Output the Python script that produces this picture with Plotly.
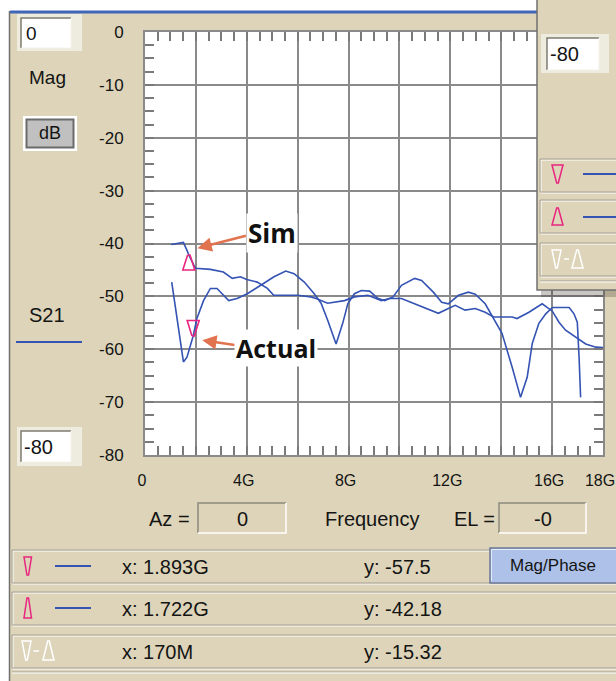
import plotly.graph_objects as go

# ---- S21 magnitude traces (frequency in GHz, magnitude in dB) ----
sim_freq_ghz = [1.03, 1.51, 1.65, 1.722, 1.98, 2.57, 3.08, 3.43, 3.75, 4.0, 4.41, 4.81,
                5.06, 5.46, 6.0, 6.52, 6.72, 7.18, 7.84, 8.23, 8.76, 9.29, 9.62, 10.08,
                10.6, 11.13, 11.53, 11.92, 12.19, 12.58, 12.98, 13.37, 13.7, 14.43, 14.62,
                15.09, 15.61, 16.01, 16.27, 16.53, 16.93, 17.32, 17.72, 18.0]
sim_db = [-40.2, -39.8, -41.3, -42.18, -44.7, -44.9, -45.4, -46.6, -46.3, -46.8, -47.3, -48.5,
          -49.8, -49.8, -49.8, -50.1, -50.4, -51.3, -50.8, -50.1, -49.8, -50.8, -50.4, -50.4,
          -51.4, -52.3, -53.2, -52.3, -51.7, -52.6, -52.3, -53.0, -53.9, -53.9, -54.2,
          -53.0, -51.4, -52.8, -54.9, -56.4, -57.8, -59.0, -59.6, -59.7]

actual_freq_ghz = [1.05, 1.19, 1.38, 1.51, 1.65, 1.893, 2.04, 2.3, 2.57, 2.83, 3.03, 3.29,
                   3.62, 4.02, 4.55, 5.07, 5.53, 5.86, 6.26, 6.65, 6.92, 7.18, 7.51, 7.77,
                   7.97, 8.23, 8.5, 8.83, 9.16, 9.42, 9.75, 10.08, 10.6, 10.87, 11.33, 11.66,
                   11.92, 12.32, 12.71, 12.98, 13.37, 13.7, 14.03, 14.43, 14.76, 15.02, 15.22,
                   15.48, 15.75, 16.01, 16.67, 16.86, 16.99, 17.06, 17.12]
actual_db = [-47.3, -52.0, -58.9, -62.4, -61.5, -57.5, -54.2, -50.8, -48.5, -48.5, -49.5, -50.8,
             -50.4, -49.5, -47.9, -46.3, -45.2, -45.7, -47.3, -49.5, -51.3, -54.5, -59.0, -55.1,
             -51.4, -49.5, -48.9, -49.0, -50.4, -50.8, -50.1, -47.9, -46.6, -47.0, -49.2, -51.1,
             -51.4, -49.8, -49.2, -49.6, -51.4, -54.2, -57.0, -63.4, -69.1, -65.3, -58.9,
             -55.1, -53.3, -52.1, -52.1, -53.3, -54.9, -61.5, -69.1]

# ---- marker readouts ----
marker_down = (1.893, -57.5)      # "∇" marker on the measured trace
marker_up = (1.722, -42.18)       # "Δ" marker on the simulated trace
readout_x = ["x: 1.893G", "x: 1.722G", "x: 170M"]
readout_y = ["y: -57.5", "y: -42.18", "y: -15.32"]

# ---- axes ----
x_tick_vals = [0, 2, 4, 6, 8, 10, 12, 14, 16, 18]
x_tick_text = ["0", "", "4G", "", "8G", "", "12G", "", "16G", "18G"]
y_tick_vals = [0, -10, -20, -30, -40, -50, -60, -70, -80]
y_tick_text = ["0", "-10", "-20", "-30", "-40", "-50", "-60", "-70", "-80"]

# ---- styling ----
W, H = 616, 681
L, R, T, B = 145, 603, 32, 455
BEIGE = "#DDD4B9"
FRAME_LIGHT = "#EEEBDF"
GRID = "#8A8A8A"
TRACE = "#3453B3"
PINK = "#E8267F"
TXT = "#141414"
FONT = "Liberation Sans, Arial, sans-serif"
ORANGE = "#E2734F"

PX_PER_GHZ = (R - L) / 18.0
PX_PER_DB = (B - T) / 80.0


def fx(px):
    return (px - L) / (R - L)


def fy(py):
    return (B - py) / (B - T)


shapes = []
annotations = []


def rect(x0, y0, x1, y1, fill=None, line=None, width=1, layer="above"):
    shapes.append(dict(type="rect", xref="paper", yref="paper",
                       x0=fx(x0), x1=fx(x1), y0=fy(y0), y1=fy(y1),
                       fillcolor=fill if fill else "rgba(0,0,0,0)",
                       line=dict(color=line if line else "rgba(0,0,0,0)", width=width if line else 0),
                       layer=layer))


def path(points, color, width=1.5, closed=False, fill=None):
    d = "M " + " L ".join(f"{fx(x):.5f},{fy(y):.5f}" for x, y in points)
    if closed:
        d += " Z"
    shapes.append(dict(type="path", xref="paper", yref="paper", path=d,
                       line=dict(color=color, width=width),
                       fillcolor=fill if fill else "rgba(0,0,0,0)", layer="above"))


def text(s, px, py, size=20, anchor="left", color=TXT, family=FONT):
    annotations.append(dict(text=s, xref="paper", yref="paper", x=fx(px), y=fy(py),
                            xanchor=anchor, yanchor="middle", showarrow=False,
                            font=dict(family=family, size=size, color=color)))


def etched(x0, y0, x1, y1):
    rect(x0 + 1, y0 + 1, x1 + 1, y1 + 1, line="#FFFFFF", width=1)
    rect(x0, y0, x1, y1, line="#A3A092", width=1)


def sunken_white(x0, y0, x1, y1):
    rect(x0, y0, x1, y1, fill="#FFFFFF")
    path([(x0, y1), (x0, y0), (x1, y0)], "#7E7B72", 1.5)
    path([(x1, y0), (x1, y1), (x0, y1)], "#F4F2EA", 1)


def sunken_beige(x0, y0, x1, y1):
    path([(x0, y1), (x0, y0), (x1, y0)], "#8D8A7E", 1.5)
    path([(x1, y0), (x1, y1), (x0, y1)], "#FFFFFF", 1.5)


def tri_down(x0, x1, y0, y1, color, w=1.5):
    xm = (x0 + x1) / 2
    path([(x0, y0), (x1, y0), (xm + 0.8, y1), (xm - 0.8, y1)], color, w, closed=True)


def tri_up(x0, x1, y0, y1, color, w=1.5):
    xm = (x0 + x1) / 2
    path([(xm - 0.8, y0), (xm + 0.8, y0), (x1, y1), (x0, y1)], color, w, closed=True)


# ---- window frame ----
rect(-2, -2, W + 2, 11, fill="#FFFFFF")
rect(-2, -2, 9, H + 2, fill="#FFFFFF")
path([(9.5, 11), (9.5, H + 2)], "#6F6F6F", 1.5)
rect(10, 10.5, 537, 13.5, fill="#3F66B8")

# ---- left control column ----
rect(17, 14, 82, 51, fill=FRAME_LIGHT)
sunken_white(21, 18, 71, 48)
text("0", 24, 33, 19)
text("Mag", 47, 77, 19, anchor="center")
rect(23, 116, 77, 151, fill="#FFFFFF")
rect(26.5, 119.5, 73.5, 147.5, fill="#C0C0C0", line="#6B6B6B", width=2)
text("dB", 50, 133, 18, anchor="center")
text("S21", 47, 315, 20, anchor="center")
path([(16, 342), (82, 342)], TRACE, 2)
rect(17, 427, 82, 466, fill=FRAME_LIGHT)
sunken_white(21, 431, 71, 462)
text("-80", 22, 447, 20)

# ---- below the plot ----
text("Az =", 169, 519, 20, anchor="center")
sunken_beige(198, 503, 286, 533)
text("0", 242, 519, 20, anchor="center")
text("Frequency", 372, 519, 20, anchor="center")
text("EL =", 474, 519, 20, anchor="center")
sunken_beige(499, 503, 586, 533)
text("-0", 543, 519, 20, anchor="center")

row_tops = [550, 592, 635]
for top in row_tops:
    etched(12, top, W + 5, top + 33)
path([(12, 672), (W + 5, 672)], "#A3A092", 1)
path([(12, 673), (W + 5, 673)], "#FFFFFF", 1)

tri_down(24, 31.5, 557, 575, PINK)
path([(55, 566), (91, 566)], TRACE, 2)
tri_up(24, 31.5, 598, 618, PINK)
path([(55, 608), (91, 608)], TRACE, 2)
tri_down(22, 31, 641, 660, "#FFFFFF")
path([(33.5, 651), (39, 651)], "#FFFFFF", 1.5)
tri_up(43, 54, 641, 660, "#FFFFFF")
for i, top in enumerate(row_tops):
    cy = top + 16.5
    text(readout_x[i], 120, cy, 20)
    text(readout_y[i], 362, cy, 20)

rect(490, 548, W + 5, 583, fill="#AEC2E9", line="#6C7A96", width=1.5)
path([(491.5, 581), (491.5, 549.5), (W, 549.5)], "#E4ECFA", 1)
text("Mag/Phase", 553, 565, 17, anchor="center")

# ---- floating marker panel on the right ----
rect(541, 290, W + 3, 297, fill="rgba(60,55,40,0.28)")
rect(537, -2, W + 3, 290, fill=BEIGE, line="#707070", width=1.5)
rect(541, 34, 609, 73, fill=FRAME_LIGHT)
sunken_white(547, 38, 599, 70)
text("-80", 548, 54, 20)
for top in [159, 200, 243]:
    etched(540, top, W + 5, top + 33)
path([(540, 281), (W + 5, 281)], "#A3A092", 1)
path([(540, 282), (W + 5, 282)], "#FFFFFF", 1)
tri_down(552, 563, 165, 183, PINK)
path([(583, 174), (W + 2, 174)], TRACE, 2)
tri_up(552, 563, 208, 225, PINK)
path([(583, 217), (W + 2, 217)], TRACE, 2)
tri_down(552, 561, 250, 268, "#FFFFFF")
path([(564, 259), (569, 259)], "#FFFFFF", 1.5)
tri_up(572, 583, 250, 268, "#FFFFFF")

# ---- figure ----
fig = go.Figure()
fig.add_trace(go.Scatter(x=sim_freq_ghz, y=sim_db, mode="lines", name="Sim",
                         line=dict(color=TRACE, width=1.6), hoverinfo="skip"))
fig.add_trace(go.Scatter(x=actual_freq_ghz, y=actual_db, mode="lines", name="Actual",
                         line=dict(color=TRACE, width=1.6), hoverinfo="skip"))


def marker_outline(freq, db, pointing_down):
    # narrow outlined triangle whose tip sits on the marker value
    h = 15.5 if pointing_down else 15.0
    sgn = -1 if pointing_down else 1
    offs = [(-1.2, 0), (1.2, 0), (6.0, h), (-6.0, h), (-1.2, 0)]
    xs = [freq + dx / PX_PER_GHZ for dx, _ in offs]
    ys = [db - sgn * dy / PX_PER_DB for _, dy in offs]
    return xs, ys


for (mf, mdb), down in [(marker_up, False), (marker_down, True)]:
    xs, ys = marker_outline(mf, mdb, down)
    fig.add_trace(go.Scatter(x=xs, y=ys, mode="lines", line=dict(color=PINK, width=1.6),
                             hoverinfo="skip"))

# callouts
annotations.append(dict(x=2.06, y=-40.9, xref="x", yref="y", text="", showarrow=True,
                        ax=50, ay=-13, arrowhead=2, arrowsize=1.1, arrowwidth=2.6,
                        arrowcolor=ORANGE, standoff=0))
annotations.append(dict(x=2.25, y=-58.3, xref="x", yref="y", text="", showarrow=True,
                        ax=34, ay=5, arrowhead=2, arrowsize=1.1, arrowwidth=2.6,
                        arrowcolor=ORANGE, standoff=0))
annotations.append(dict(text="<b>Sim</b>", xref="paper", yref="paper", x=fx(272), y=fy(233),
                        xanchor="center", yanchor="middle", showarrow=False, bgcolor="#FFFFFF",
                        font=dict(family="Open Sans, Noto Sans, sans-serif", size=26, color="#111111")))
annotations.append(dict(text="<b>Actual</b>", xref="paper", yref="paper", x=fx(276), y=fy(348),
                        xanchor="center", yanchor="middle", showarrow=False, bgcolor="#FFFFFF",
                        font=dict(family="Open Sans, Noto Sans, sans-serif", size=25, color="#111111")))

axis_common = dict(
    showgrid=True, gridcolor=GRID, gridwidth=1.6, zeroline=False,
    showline=True, linecolor=GRID, linewidth=2, mirror="allticks",
    ticks="inside", ticklen=9, tickwidth=2, tickcolor="#7A7A7A",
    fixedrange=True, ticklabeloverflow="allow", automargin=False,
)

fig.update_layout(
    width=W, height=H, autosize=False,
    margin=dict(l=L, r=W - R, t=T, b=H - B, pad=0, autoexpand=False),
    paper_bgcolor=BEIGE, plot_bgcolor="#FFFFFF",
    showlegend=False,
    xaxis=dict(range=[0, 18], tickmode="array", tickvals=x_tick_vals, ticktext=x_tick_text,
               ticklabelstandoff=10, ticklabelshift=-3,
               tickfont=dict(family=FONT, size=16, color=TXT),
               minor=dict(tickmode="linear", tick0=0, dtick=0.5, ticks="inside", ticklen=9,
                          tickwidth=2, tickcolor="#7A7A7A", showgrid=False),
               **axis_common),
    yaxis=dict(range=[-80, 0], tickmode="array", tickvals=y_tick_vals, ticktext=y_tick_text,
               ticklabelstandoff=16, tickfont=dict(family=FONT, size=17, color=TXT),
               minor=dict(tickmode="linear", tick0=0, dtick=2.5, ticks="inside", ticklen=9,
                          tickwidth=2, tickcolor="#7A7A7A", showgrid=False),
               **axis_common),
    shapes=shapes,
    annotations=annotations,
)

fig.write_html("out.html")
